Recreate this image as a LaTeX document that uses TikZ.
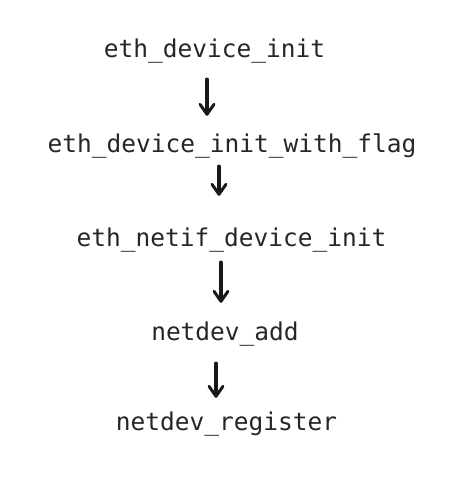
\documentclass[tikz,border=0pt]{standalone}
\usepackage{fontspec}
\newfontfamily\handmono{DejaVu Sans Mono}
\usetikzlibrary{arrows.meta}
\tikzset{
  fn/.style={anchor=base, inner sep=0pt, text height=18pt, text depth=6pt,
    font=\handmono\fontsize{24.5pt}{28pt}\selectfont, text=black!85},
  arr/.style={line width=3.4pt, line cap=round, black!90,
    -{Straight Barb[length=10pt,width=14pt,line width=3pt,round]}}
}
\begin{document}
\begin{tikzpicture}[x=1pt,y=-1pt]
\useasboundingbox (0,0) rectangle (472,487);
\node[fn] (t1) at (214.5,57) {eth\_device\_init};
\node[fn] (t2) at (232,152) {eth\_device\_init\_with\_flag};
\node[fn] (t3) at (231.5,246) {eth\_netif\_device\_init};
\node[fn] (t4) at (225,340) {netdev\_add};
\node[fn] (t5) at (226.5,430) {netdev\_register};
\coordinate (x1) at (207,0);
\coordinate (x2) at (219,0);
\coordinate (x3) at (221,0);
\coordinate (x4) at (216,0);
\draw[arr, shorten <=16pt, shorten >=18pt] (t1.south -| x1) -- (t2.north -| x1);
\draw[arr, shorten <=8pt, shorten >=32pt] (t2.south -| x2) -- (t3.north -| x2);
\draw[arr, shorten <=10pt, shorten >=19pt] (t3.south -| x3) -- (t4.north -| x3);
\draw[arr, shorten <=17pt, shorten >=14pt] (t4.south -| x4) -- (t5.north -| x4);
\end{tikzpicture}
\end{document}
